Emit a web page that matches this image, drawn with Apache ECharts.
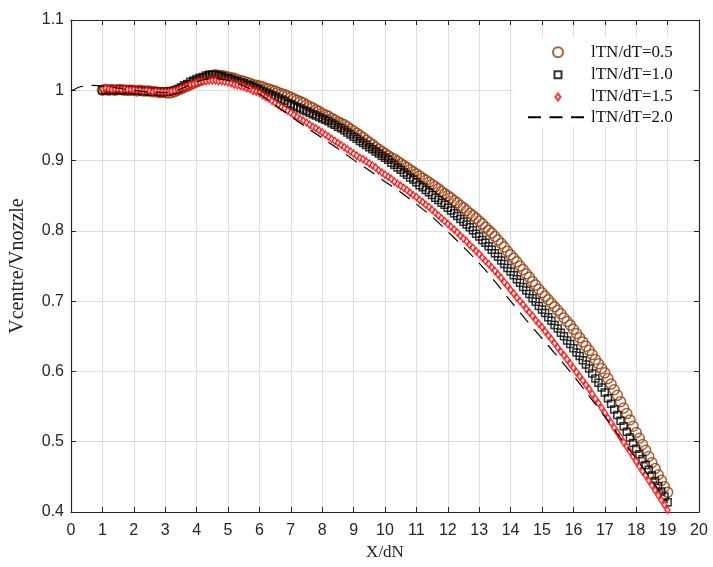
<!DOCTYPE html>
<html>
<head>
<meta charset="utf-8">
<script src="https://cdn.jsdelivr.net/npm/echarts@6/dist/echarts.min.js"></script>
<style>
  html, body { margin: 0; padding: 0; background: #fff; }
  #chart { width: 713px; height: 567px; }
</style>
</head>
<body>
<div id="chart"></div>
<script>
// Centreline velocity ratio along the jet axis for four lTN/dT ratios.
const xMarks = [
  1.0,1.1,1.2,1.3,1.4,1.5,1.6,1.7,1.8,1.9, 2.0,2.1,2.2,2.3,2.4,2.5,2.6,2.7,2.8,2.9,
  3.0,3.1,3.2,3.3,3.4,3.5,3.6,3.7,3.8,3.9, 4.0,4.1,4.2,4.3,4.4,4.5,4.6,4.7,4.8,4.9,
  5.0,5.1,5.2,5.3,5.4,5.5,5.6,5.7,5.8,5.9, 6.0,6.1,6.2,6.3,6.4,6.5,6.6,6.7,6.8,6.9,
  7.0,7.1,7.2,7.3,7.4,7.5,7.6,7.7,7.8,7.9, 8.0,8.1,8.2,8.3,8.4,8.5,8.6,8.7,8.8,8.9,
  9.0,9.1,9.2,9.3,9.4,9.5,9.6,9.7,9.8,9.9, 10.0,10.1,10.2,10.3,10.4,10.5,10.6,10.7,10.8,10.9,
  11.0,11.1,11.2,11.3,11.4,11.5,11.6,11.7,11.8,11.9, 12.0,12.1,12.2,12.3,12.4,12.5,12.6,12.7,12.8,12.9,
  13.0,13.1,13.2,13.3,13.4,13.5,13.6,13.7,13.8,13.9, 14.0,14.1,14.2,14.3,14.4,14.5,14.6,14.7,14.8,14.9,
  15.0,15.1,15.2,15.3,15.4,15.5,15.6,15.7,15.8,15.9, 16.0,16.1,16.2,16.3,16.4,16.5,16.6,16.7,16.8,16.9,
  17.0,17.1,17.2,17.3,17.4,17.5,17.6,17.7,17.8,17.9, 18.0,18.1,18.2,18.3,18.4,18.5,18.6,18.7,18.8,18.9,
  19.0];

const ratio05 = [
  1.000,1.001,1.000,1.001,1.000,1.001,1.001,1.000,1.000,1.000, 1.000,0.999,1.000,0.999,0.999,0.999,0.998,0.998,0.997,0.997,
  0.997,0.996,0.997,0.998,1.000,1.002,1.004,1.006,1.008,1.010, 1.012,1.014,1.016,1.018,1.020,1.021,1.022,1.021,1.021,1.020,
  1.019,1.018,1.017,1.015,1.014,1.013,1.011,1.010,1.008,1.007, 1.006,1.005,1.003,1.002,1.000,0.999,0.997,0.995,0.994,0.992,
  0.990,0.988,0.986,0.984,0.982,0.979,0.977,0.975,0.972,0.970, 0.967,0.965,0.963,0.960,0.958,0.955,0.953,0.951,0.948,0.945,
  0.942,0.939,0.936,0.933,0.929,0.926,0.923,0.919,0.916,0.913, 0.910,0.907,0.904,0.902,0.899,0.896,0.893,0.890,0.887,0.884,
  0.881,0.878,0.875,0.872,0.869,0.866,0.863,0.860,0.856,0.853, 0.850,0.847,0.843,0.840,0.836,0.833,0.829,0.825,0.822,0.818,
  0.814,0.810,0.805,0.801,0.797,0.792,0.787,0.782,0.777,0.771, 0.766,0.761,0.756,0.750,0.745,0.739,0.734,0.728,0.723,0.717,
  0.712,0.707,0.702,0.697,0.692,0.687,0.682,0.676,0.671,0.666, 0.660,0.654,0.648,0.642,0.636,0.630,0.624,0.617,0.611,0.604,
  0.598,0.590,0.582,0.574,0.566,0.557,0.548,0.540,0.531,0.522, 0.513,0.505,0.496,0.488,0.479,0.470,0.462,0.453,0.445,0.436,
  0.428];

const ratio10 = [
  1.000,1.000,1.001,1.000,1.000,1.001,1.000,1.000,1.001,1.000, 1.000,1.000,0.999,0.999,0.999,0.998,0.998,0.998,0.998,0.997,
  0.998,0.998,0.999,1.000,1.002,1.004,1.007,1.009,1.012,1.014, 1.016,1.018,1.019,1.021,1.022,1.022,1.022,1.021,1.020,1.018,
  1.017,1.016,1.014,1.013,1.011,1.010,1.008,1.007,1.005,1.003, 1.001,0.999,0.997,0.995,0.993,0.991,0.989,0.987,0.985,0.982,
  0.980,0.978,0.976,0.974,0.972,0.970,0.968,0.966,0.964,0.962, 0.960,0.958,0.956,0.953,0.951,0.948,0.946,0.943,0.940,0.937,
  0.934,0.931,0.928,0.925,0.922,0.919,0.916,0.913,0.910,0.907, 0.904,0.901,0.897,0.894,0.890,0.887,0.883,0.880,0.876,0.873,
  0.869,0.865,0.862,0.858,0.855,0.851,0.847,0.844,0.840,0.837, 0.833,0.829,0.825,0.821,0.817,0.813,0.809,0.805,0.801,0.796,
  0.792,0.787,0.783,0.778,0.773,0.768,0.763,0.758,0.753,0.747, 0.742,0.737,0.731,0.726,0.720,0.715,0.710,0.704,0.699,0.693,
  0.688,0.683,0.677,0.672,0.666,0.661,0.655,0.650,0.644,0.639, 0.633,0.627,0.622,0.616,0.610,0.604,0.597,0.590,0.584,0.577,
  0.570,0.562,0.554,0.546,0.538,0.530,0.522,0.514,0.506,0.498, 0.490,0.482,0.475,0.467,0.460,0.452,0.444,0.437,0.429,0.422,
  0.414];

const ratio15 = [
  1.002,1.003,1.002,1.001,1.002,1.002,1.001,1.002,1.001,1.001, 1.001,1.000,1.000,0.999,1.000,0.999,0.998,0.999,0.998,0.998,
  0.998,0.998,0.999,1.000,1.001,1.003,1.004,1.006,1.008,1.009, 1.011,1.012,1.013,1.013,1.014,1.014,1.014,1.013,1.013,1.012,
  1.011,1.010,1.008,1.007,1.006,1.005,1.003,1.002,0.999,0.998, 0.996,0.993,0.990,0.988,0.985,0.982,0.979,0.976,0.974,0.971,
  0.968,0.965,0.962,0.959,0.957,0.954,0.951,0.948,0.946,0.943, 0.940,0.937,0.934,0.931,0.928,0.925,0.922,0.919,0.916,0.913,
  0.910,0.907,0.904,0.902,0.899,0.896,0.893,0.890,0.886,0.883, 0.880,0.877,0.874,0.870,0.867,0.864,0.861,0.858,0.854,0.851,
  0.848,0.844,0.841,0.837,0.834,0.830,0.826,0.822,0.818,0.814, 0.810,0.806,0.802,0.798,0.793,0.789,0.785,0.780,0.776,0.771,
  0.767,0.762,0.757,0.753,0.748,0.743,0.738,0.733,0.727,0.722, 0.716,0.711,0.705,0.700,0.695,0.689,0.684,0.679,0.673,0.668,
  0.663,0.657,0.651,0.646,0.640,0.634,0.628,0.623,0.617,0.611, 0.605,0.599,0.593,0.587,0.581,0.575,0.568,0.561,0.555,0.548,
  0.541,0.534,0.527,0.520,0.513,0.506,0.499,0.493,0.486,0.479, 0.472,0.465,0.458,0.452,0.445,0.438,0.431,0.424,0.417,0.410,
  0.403];

const xLine = [0,0.3,0.7,1,1.5,2,2.5,3,3.5,4,4.5,5,5.5,6,6.5,7,7.5,8,8.5,9,9.5,10,10.5,11,11.5,12,
  12.5,13,13.5,14,14.5,15,15.5,16,16.5,17,17.5,18,18.5,19];
const ratio20 = [0.999,1.005,1.007,1.006,1.003,1.000,0.998,0.997,1.002,1.012,1.017,1.014,1.006,0.995,0.979,0.963,
  0.947,0.932,0.917,0.901,0.886,0.870,0.855,0.838,0.820,0.799,0.777,0.754,0.728,0.700,0.673,0.647,
  0.621,0.594,0.565,0.536,0.505,0.476,0.445,0.413];

const xTicks = { min: 0, max: 20, interval: 1 };
const yTicks = { min: 0.4, max: 1.1, interval: 0.1 };

const seriesNames = ['lTN/dT=0.5', 'lTN/dT=1.0', 'lTN/dT=1.5', 'lTN/dT=2.0'];

const pairs = (xs, ys) => xs.map((x, i) => [x, ys[i]]);

const frame = '#262626';
const sans = 'Liberation Sans, Arial, sans-serif';
const serif = 'Liberation Serif, Times New Roman, serif';
const dash = [13, 8.5];

const chart = echarts.init(document.getElementById('chart'), null, { renderer: 'canvas' });

const baseAxis = {
  axisLine: { show: true, onZero: false, lineStyle: { color: frame, width: 1.2 } },
  axisTick: { show: true, inside: true, length: 5, lineStyle: { color: frame, width: 1 } },
  splitLine: { show: false }
};

// one legend block per entry so every key keeps its own marker size
const legendText = { fontFamily: serif, fontSize: 17, color: '#111', lineHeight: 18 };
const legendRow = (name, left, top, w, h, textPad) => ({
  orient: 'vertical', left: left, top: top, padding: 0,
  itemWidth: w, itemHeight: h,
  textStyle: Object.assign({}, legendText, { padding: [0, 0, 0, textPad] }),
  data: [name], selectedMode: false
});

chart.setOption({
  animation: false,
  backgroundColor: '#fff',
  grid: { left: 71, right: 14, top: 20, bottom: 55, containLabel: false, outerBoundsMode: 'none' },
  xAxis: [
    Object.assign({}, baseAxis, {
      type: 'value', min: xTicks.min, max: xTicks.max, interval: xTicks.interval,
      name: 'X/dN', nameLocation: 'middle', nameGap: 32,
      nameTextStyle: { fontFamily: serif, fontSize: 17, color: '#222' },
      axisLabel: { fontFamily: sans, fontSize: 16, color: '#262626', margin: 11 },
      splitLine: { show: true, lineStyle: { color: '#dedede', width: 1 } }
    }),
    Object.assign({}, baseAxis, {
      type: 'value', position: 'top', min: xTicks.min, max: xTicks.max, interval: xTicks.interval,
      axisLabel: { show: false }
    })
  ],
  yAxis: [
    Object.assign({}, baseAxis, {
      type: 'value', min: yTicks.min, max: yTicks.max, interval: yTicks.interval,
      name: 'Vcentre/Vnozzle', nameLocation: 'middle', nameGap: 43,
      nameTextStyle: { fontFamily: serif, fontSize: 20, color: '#222' },
      axisLabel: { fontFamily: sans, fontSize: 16, color: '#262626', margin: 7,
        formatter: v => String(Math.round(v * 10) / 10) },
      splitLine: { show: true, lineStyle: { color: '#dedede', width: 1 } }
    }),
    Object.assign({}, baseAxis, {
      type: 'value', position: 'right', min: yTicks.min, max: yTicks.max, interval: yTicks.interval,
      axisLabel: { show: false }
    })
  ],
  graphic: [{
    type: 'rect', z: 1, silent: true,
    shape: { x: 513, y: 37, width: 177, height: 90 },
    style: { fill: '#fff' }
  }],
  legend: [
    legendRow(seriesNames[0], 552, 43.2, 10, 10, 23),
    legendRow(seriesNames[1], 553.5, 65.7, 7, 7, 24.5),
    legendRow(seriesNames[2], 554.5, 88, 5, 7, 25.5),
    legendRow({ name: seriesNames[3], itemStyle: { color: 'rgba(0,0,0,0)', borderWidth: 0 } },
      527, 108.2, 56, 12, 2)
  ],
  series: [
    {
      name: seriesNames[0], type: 'scatter', data: pairs(xMarks, ratio05),
      symbol: 'circle', symbolSize: 10,
      itemStyle: { color: 'rgba(0,0,0,0)', borderColor: '#983808', borderWidth: 1.5 },
      z: 2
    },
    {
      name: seriesNames[1], type: 'scatter', data: pairs(xMarks, ratio10),
      symbol: 'rect', symbolSize: 7,
      itemStyle: { color: 'rgba(0,0,0,0)', borderColor: '#000', borderWidth: 1.5 },
      z: 3
    },
    {
      name: seriesNames[2], type: 'scatter', data: pairs(xMarks, ratio15),
      symbol: 'diamond', symbolSize: [5, 7],
      itemStyle: { color: '#fff', borderColor: '#ff0000', borderWidth: 1.5 },
      z: 4
    },
    {
      name: seriesNames[3], type: 'line', data: pairs(xLine, ratio20),
      symbol: 'none', smooth: 0.3,
      lineStyle: { color: '#000', width: 1.2, type: dash },
      itemStyle: { color: '#000' },
      z: 5
    }
  ]
});
</script>
</body>
</html>
